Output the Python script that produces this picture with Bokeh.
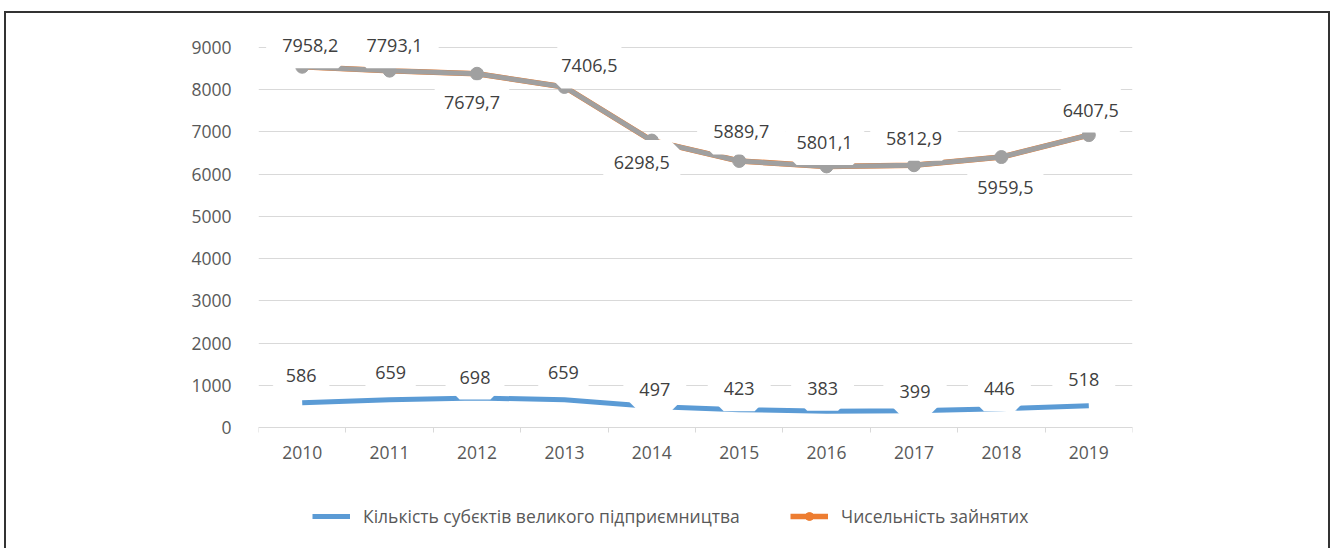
from bokeh.plotting import figure
from bokeh.models import ColumnDataSource, LabelSet, Legend, LegendItem, FixedTicker, Range1d
from bokeh.core.properties import value
from bokeh.embed import file_html
from bokeh.resources import INLINE

# ---- data ----
years = ["2010", "2011", "2012", "2013", "2014", "2015", "2016", "2017", "2018", "2019"]
enterprises = [586, 659, 698, 659, 497, 423, 383, 399, 446, 518]
employed = [7958.2, 7793.1, 7679.7, 7406.5, 6298.5, 5889.7, 5801.1, 5812.9, 5959.5, 6407.5]
y_ticks = [0, 1000, 2000, 3000, 4000, 5000, 6000, 7000, 8000, 9000]
series_names = ["Кількість субєктів великого підприємництва", "Чисельність зайнятих"]

# ---- label placement (screen px, layout only) ----
emp_dx = [8, 5, -5, 25, -10, 2, -2, 0, 4, 2]
emp_dy = [21, 25, -29, 21, -22, 29, 24, 27, -30, 25]
ent_dx = [-1, 1, -2, -1, 3, 0, -4, 1, -2, -5]
ent_dy = [27, 27, 21, 27, 17, 21, 23, 19, 20, 26]

# ---- layout: frame spans whole canvas height; axis 0..9000 occupies 380px ----
CANVAS_H = 540
AXIS_TOP_PX = 34          # px from canvas top to the 9000 line
AXIS_PX = 380             # px between 0 and 9000
units_per_px = (y_ticks[-1] - y_ticks[0]) / AXIS_PX
y_top = y_ticks[-1] + AXIS_TOP_PX * units_per_px
y_bot = y_ticks[0] - (CANVAS_H - AXIS_TOP_PX - AXIS_PX) * units_per_px

xs = list(range(len(years)))
stacked = [e + n for e, n in zip(employed, enterprises)]  # stacked line chart

src = ColumnDataSource(dict(
    x=xs,
    ent=enterprises,
    tot=stacked,
    ent_lbl=[str(v) for v in enterprises],
    emp_lbl=[f"{v:.1f}".replace(".", ",") for v in employed],
    emp_dx=emp_dx, emp_dy=emp_dy, ent_dx=ent_dx, ent_dy=ent_dy,
))

FONT = "Open Sans"
BLUE = "#5b9bd5"
ORANGE = "#ed7d31"
GRAY = "#a0a0a0"

p = figure(width=1326, height=CANVAS_H, output_backend="svg", toolbar_location=None,
           x_range=Range1d(-0.5, len(years) - 0.5), y_range=Range1d(y_bot, y_top),
           min_border_left=252, min_border_right=200, min_border_top=0, min_border_bottom=0,
           margin=(11, 0, 0, 4),
           styles={"border": "2px solid #333333"})
p.outline_line_color = None
p.background_fill_color = "white"
p.border_fill_color = "white"

p.xgrid.grid_line_color = None
p.ygrid.grid_line_color = "#d9d9d9"
p.ygrid.grid_line_width = 1
p.yaxis.ticker = FixedTicker(ticks=y_ticks)
p.yaxis.axis_line_color = None
p.yaxis.major_tick_line_color = None
p.yaxis.minor_tick_line_color = None
p.yaxis.major_label_standoff = 21
p.yaxis.major_label_text_font = FONT
p.yaxis.major_label_text_font_size = "17.5px"
p.yaxis.major_label_text_color = "#595959"

p.xaxis.fixed_location = 0
p.xaxis.ticker = FixedTicker(ticks=xs, minor_ticks=[i - 0.5 for i in range(len(years) + 1)])
p.xaxis.major_label_overrides = {i: y for i, y in zip(xs, years)}
p.xaxis.axis_line_color = "#d9d9d9"
p.xaxis.major_tick_line_color = None
p.xaxis.minor_tick_line_color = "#d9d9d9"
p.xaxis.minor_tick_in = 0
p.xaxis.minor_tick_out = 5
p.xaxis.major_label_standoff = 12
p.xaxis.major_label_text_font = FONT
p.xaxis.major_label_text_font_size = "17.5px"
p.xaxis.major_label_text_color = "#595959"

r_blue = p.line("x", "ent", source=src, line_color=BLUE, line_width=5)
r_or_line = p.line("x", "tot", source=src, line_color=ORANGE, line_width=5.5)
p.line("x", "tot", source=src, line_color=GRAY, line_width=5)
r_or_pts = p.scatter("x", "tot", source=src, marker="circle", size=10,
                     fill_color=ORANGE, line_color=ORANGE)
p.scatter("x", "tot", source=src, marker="circle", size=13, fill_color=GRAY, line_color=GRAY)

common = dict(source=src, text_align="center", text_baseline="middle",
              text_font=value(FONT), text_font_size="18px", text_color="#404040",
              background_fill_color="white", border_line_color="white", border_line_width=32)
p.add_layout(LabelSet(x="x", y="tot", text="emp_lbl", x_offset="emp_dx", y_offset="emp_dy", **common))
p.add_layout(LabelSet(x="x", y="ent", text="ent_lbl", x_offset="ent_dx", y_offset="ent_dy", **common))

leg_common = dict(orientation="horizontal", border_line_color=None, background_fill_alpha=0,
                  padding=0, margin=0, glyph_width=38, glyph_height=20, label_height=20,
                  label_standoff=13, label_text_font=FONT, label_text_font_size="17.5px",
                  label_text_color="#595959")
leg1 = Legend(items=[LegendItem(label=series_names[0], renderers=[r_blue])],
              location=(54, 25), **leg_common)
leg2 = Legend(items=[LegendItem(label=series_names[1], renderers=[r_or_line, r_or_pts])],
              location=(532, 25), **leg_common)
p.add_layout(leg1)
p.add_layout(leg2)

open("out.html", "w").write(file_html(p, INLINE))
